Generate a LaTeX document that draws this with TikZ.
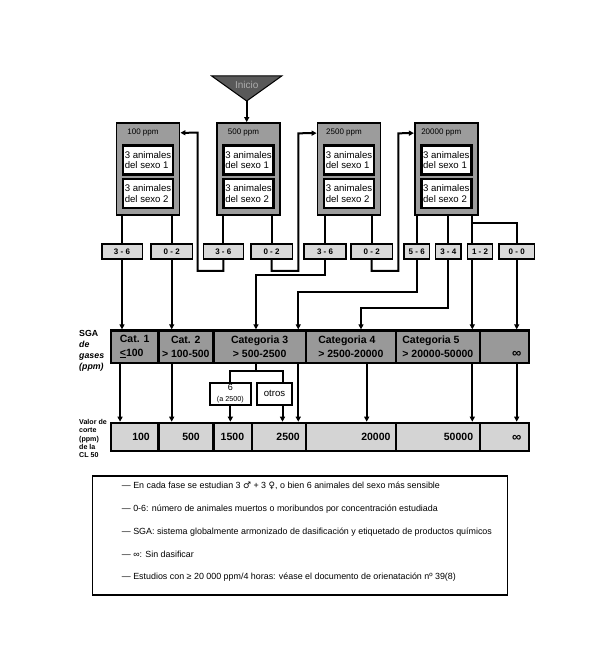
\documentclass[tikz,border=0pt]{standalone}
\usepackage{fontspec}
\setmainfont{Liberation Sans}
\newfontfamily\symfont{DejaVu Sans}
\usetikzlibrary{arrows.meta}
\definecolor{boxgray}{gray}{0.61}
\definecolor{sgagray}{gray}{0.6}
\definecolor{cutgray}{gray}{0.83}
\definecolor{cntgray}{gray}{0.85}
\definecolor{inigray}{gray}{0.35}
\definecolor{initext}{gray}{0.68}

\begin{document}
\begin{tikzpicture}[x=1pt,y=-1pt,
  ppmbox/.style={draw,line width=1.8pt,fill=boxgray,minimum width=63pt,minimum height=92pt,inner sep=0pt},
  ppmlabel/.style={font=\fontsize{8}{8}\selectfont,inner sep=0pt},
  animbox/.style={draw,line width=2.4pt,fill=white,minimum width=50pt,minimum height=29pt,inner sep=0pt,align=left,font=\fontsize{9.6}{10.7}\selectfont},
  cntbox/.style={draw,line width=1.5pt,fill=cntgray,minimum height=15pt,inner sep=0pt,font=\bfseries\fontsize{8}{8}\selectfont},
  sgacell/.style={draw,line width=2.4pt,fill=sgagray,minimum height=32.3pt,inner sep=0pt,font=\bfseries\fontsize{10.5}{13.6}\selectfont},
  cutcell/.style={draw,line width=2.4pt,fill=cutgray,minimum height=28.2pt,inner sep=0pt},
  cuttext/.style={anchor=east,inner sep=0pt,font=\bfseries\fontsize{10.5}{10.5}\selectfont},
  infsign/.style={font=\bfseries\fontsize{13}{13}\selectfont,inner sep=0pt},
  subbox/.style={draw,line width=2.2pt,fill=white,minimum height=22pt,inner sep=0pt,align=center},
  link/.style={line width=2pt},
  arr/.style={line width=2pt,-{Triangle[length=5pt,width=5pt]}}]
  \useasboundingbox (0,0) rectangle (599,660);

  \draw[line width=1pt,fill=inigray] (211.7,76) -- (281.7,76) -- (246.7,101) -- cycle;
  \node[font=\fontsize{10}{10}\selectfont,text=initext,inner sep=0pt] (ini) at (246.7,85) {Inicio};
  \coordinate (iniend) at (246.7,101);

  \node[ppmbox] (p100) at (148,169) {};
  \node[ppmbox] (p500) at (248.5,169) {};
  \node[ppmbox] (p2500) at (349,169) {};
  \node[ppmbox] (p20000) at (446.3,169) {};
  \foreach \n/\t in {p100/100,p500/500,p2500/2500,p20000/20000}{
    \node[ppmlabel] (\n-l) at ([xshift=-5pt,yshift=-10pt]\n.north) {\t\ ppm};
    \node[animbox] (\n-s1) at ([yshift=9pt]\n.center) {3 animales\\del sexo 1};
    \node[animbox] (\n-s2) at ([yshift=-24.3pt]\n.center) {3 animales\\del sexo 2};
  }

  \node[cntbox,minimum width=40.5pt] (c100a) at (122,251.7) {3 - 6};
  \node[cntbox,minimum width=41.5pt] (c100b) at (171.7,251.7) {0 - 2};
  \node[cntbox,minimum width=40pt] (c500a) at (223.3,251.7) {3 - 6};
  \node[cntbox,minimum width=41.5pt] (c500b) at (271.5,251.7) {0 - 2};
  \node[cntbox,minimum width=41.8pt] (c2500a) at (325,251.7) {3 - 6};
  \node[cntbox,minimum width=41.8pt] (c2500b) at (371.7,251.7) {0 - 2};
  \node[cntbox,minimum width=25.2pt] (c20000a) at (416.7,251.7) {5 - 6};
  \node[cntbox,minimum width=25.2pt] (c20000b) at (448.3,251.7) {3 - 4};
  \node[cntbox,minimum width=25.2pt] (c20000c) at (480,251.7) {1 - 2};
  \node[cntbox,minimum width=35.2pt] (c20000d) at (516.7,251.7) {0 - 0};

  \node[sgacell,minimum width=47.3pt,align=left] (cat1) at (134.65,346.7) {Cat. 1\\\underline{<}100};
  \node[sgacell,minimum width=55pt,align=center] (cat2) at (185.8,346.7) {Cat. 2\\> 100-500};
  \node[sgacell,minimum width=92.7pt,align=center] (cat3) at (259.65,346.7) {Categoria 3\\> 500-2500};
  \node[sgacell,minimum width=89.7pt,align=left] (cat4) at (350.85,346.7) {Categoria 4\\> 2500-20000};
  \node[sgacell,minimum width=84.3pt,align=left] (cat5) at (437.85,346.7) {Categoria 5\\> 20000-50000};
  \node[sgacell,minimum width=49pt] (catinf) at (504.5,346.7) {};
  \node[infsign] (catinf-t) at (516.7,354.5) {∞};

  \node[cutcell,minimum width=47.3pt] (v100) at (134.65,437) {};
  \node[cutcell,minimum width=55pt] (v500) at (185.8,437) {};
  \node[cutcell,minimum width=38.4pt] (v1500) at (232.5,437) {};
  \node[cutcell,minimum width=54.3pt] (v2500) at (278.85,437) {};
  \node[cutcell,minimum width=89.7pt] (v20000) at (350.85,437) {};
  \node[cutcell,minimum width=84.3pt] (v50000) at (437.85,437) {};
  \node[cutcell,minimum width=49pt] (vinf) at (504.5,437) {};
  \foreach \n/\x/\t in {v100/150/100,v500/200/500,v1500/244.3/1500,v2500/300/2500,v20000/390.7/20000,v50000/473.3/50000}
    \node[cuttext] (\n-t) at (\x,437) {\t};
  \node[infsign] (vinf-t) at (516.7,438) {∞};

  \node[subbox,minimum width=40.5pt] (k6) at (230.35,393.7) {{\fontsize{9}{9}\selectfont 6}\\[-1pt]{\fontsize{7.2}{7.2}\selectfont (a 2500)}};
  \node[subbox,minimum width=35.4pt,font=\fontsize{9.6}{9.6}\selectfont] (kot) at (274.5,393.7) {otros};

  \node[anchor=north west,align=left,inner sep=0pt,font=\bfseries\fontsize{8.8}{11}\selectfont] (sgalab) at (79,330) {SGA\\\textit{de}\\\textit{gases}\\\textit{(ppm)}};
  \node[anchor=north west,align=left,inner sep=0pt,font=\bfseries\fontsize{7.1}{8.4}\selectfont] (cutlab) at (79,419) {Valor de\\corte\\(ppm)\\de la\\CL 50};

  \draw[arr] (iniend) -- (iniend |- p500.north);
  \draw[link] (c100a |- p100.south) -- (c100a.north);
  \draw[link] (c100b |- p100.south) -- (c100b.north);
  \draw[link] (c500a |- p500.south) -- (c500a.north);
  \draw[link] (c500b |- p500.south) -- (c500b.north);
  \draw[link] (c2500a |- p2500.south) -- (c2500a.north);
  \draw[link] (c2500b |- p2500.south) -- (c2500b.north);
  \draw[link] (c20000a |- p20000.south) -- (c20000a.north);
  \draw[link] (c20000b |- p20000.south) -- (c20000b.north);
  \draw[link] ([xshift=-7.7pt]c20000c.north |- p20000.south) -- ([xshift=-7.7pt]c20000c.north);
  \coordinate (br) at (472.3,223.3);
  \draw[link] (br) -| (c20000d.north);

  \draw[arr] (c100a.south) -- (c100a.south |- cat1.north);
  \draw[arr] (c100b.south) -- (c100b.south |- cat2.north);
  \draw[arr] (c500a.south) -- ++(0,11) -| (197.7,132.7) -- ([yshift=-10.7pt]p100.north east);
  \draw[arr] (c500b.south) -- ++(0,11) -| (298.3,133.3) -- ([yshift=-11pt]p2500.north west);
  \draw[arr] (c2500a.south) -- ++(0,15) -| ([xshift=-3.7pt]cat3.north);
  \draw[arr] (c2500b.south) -- ++(0,11) -| (398.3,133.3) -- ([yshift=-11pt]p20000.north west);
  \draw[arr] (c20000a.south) -- ++(0,31.7) -| ([xshift=38.6pt]cat3.north);
  \draw[arr] (c20000b.south) -- ++(0,47.7) -| ([xshift=10.15pt]cat4.north);
  \draw[arr] ([xshift=-7.7pt]c20000c.south) -- ([xshift=-7.7pt]c20000c.south |- cat5.north);
  \draw[arr] (c20000d.south) -- (c20000d.south |- catinf.north);

  \draw[arr] ([xshift=-14.6pt]cat1.south) -- ([xshift=-14.6pt]cat1.south |- v100.north);
  \draw[arr] ([xshift=-14.1pt]cat2.south) -- ([xshift=-14.1pt]cat2.south |- v500.north);
  \draw[link] ([xshift=-3.7pt]cat3.south) -- ++(0,6.7) coordinate (fork);
  \draw[link] (k6.north) |- (fork) -| ([xshift=8pt]kot.north);
  \draw[arr] (k6.south) -- (k6.south |- v1500.north);
  \draw[arr] ([xshift=8pt]kot.south) -- ([xshift=8pt]kot.south |- v2500.north);
  \draw[arr] ([xshift=38.6pt]cat3.south) -- ([xshift=38.6pt]cat3.south |- v2500.north);
  \draw[arr] ([xshift=15.85pt]cat4.south) -- ([xshift=15.85pt]cat4.south |- v20000.north);
  \draw[arr] ([xshift=34.45pt]cat5.south) -- ([xshift=34.45pt]cat5.south |- v50000.north);
  \draw[arr] (c20000d.south |- catinf.south) -- (c20000d.south |- vinf.north);

  \node[draw,line width=1.6pt,minimum width=415pt,minimum height=119.5pt,inner sep=0pt] (legend) at (300,535.5) {};
  \node[anchor=north west,align=left,inner sep=0pt,font=\fontsize{8.9}{22.75}\selectfont] (legtxt) at (121.7,482) {%
    — En cada fase se estudian 3 {\symfont ♂} + 3 {\symfont ♀}, o bien 6 animales del sexo más sensible\\
    — 0-6: número de animales muertos o moribundos por concentración estudiada\\
    — SGA: sistema globalmente armonizado de dasificación y etiquetado de productos químicos\\
    — ∞: Sin dasificar\\
    — Estudios con ≥ 20 000 ppm/4 horas: véase el documento de orienatación nº 39(8)};
\end{tikzpicture}
\end{document}
